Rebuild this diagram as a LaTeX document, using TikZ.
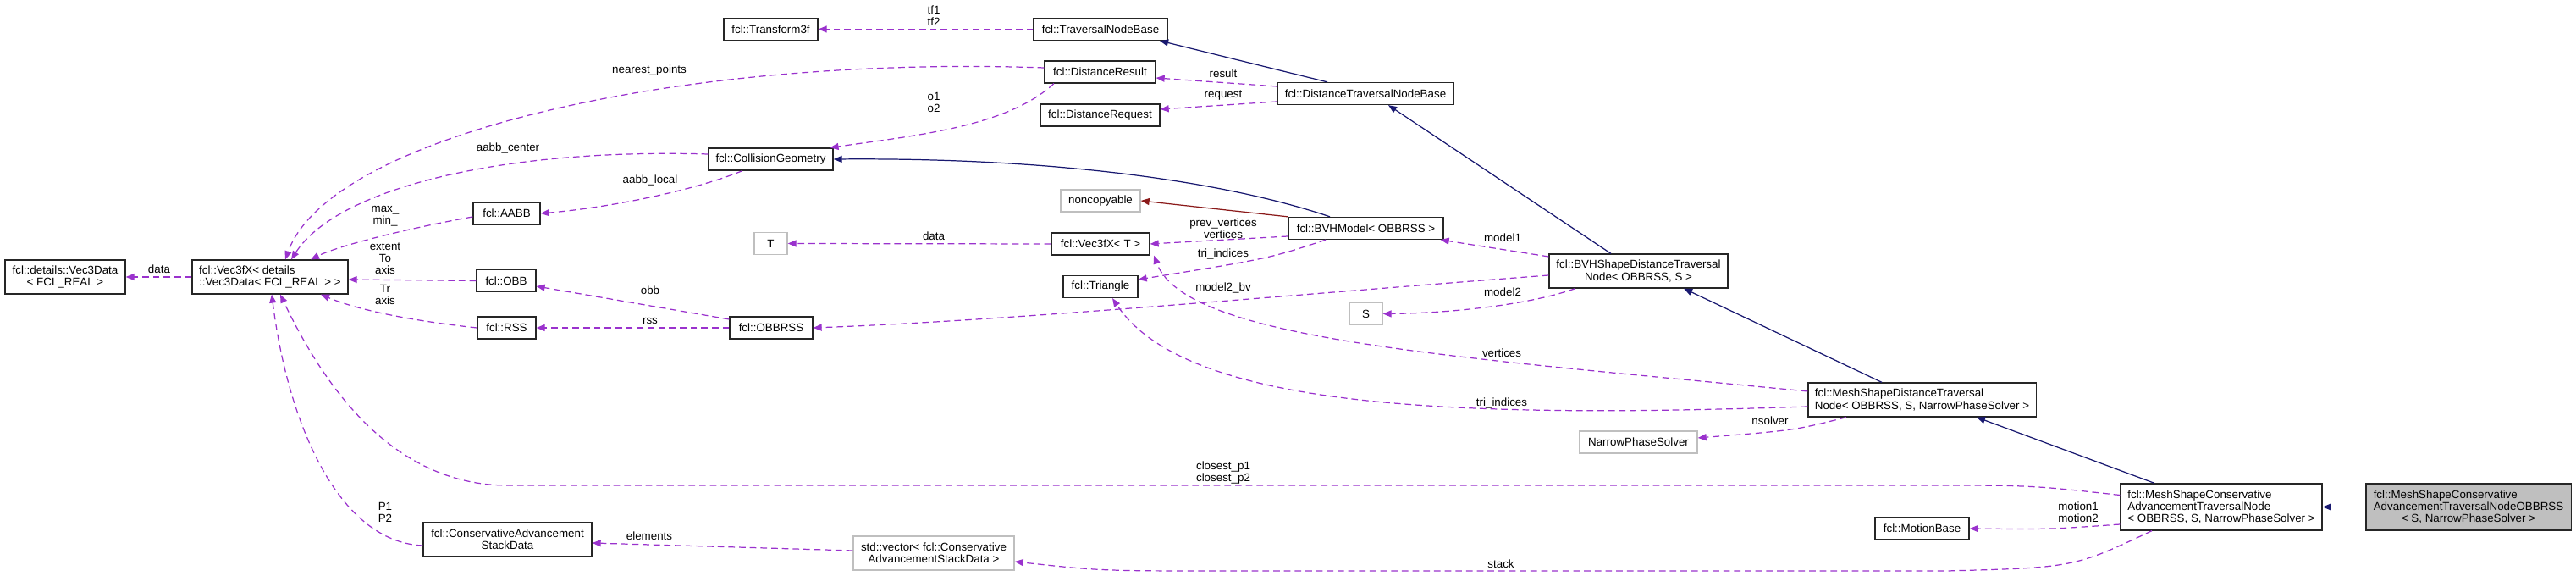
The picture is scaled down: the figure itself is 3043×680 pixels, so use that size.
\documentclass[tikz,border=0pt]{standalone}
\usepackage{fontspec}
\setmainfont{Liberation Sans}
\usetikzlibrary{arrows.meta}
\definecolor{grey75}{RGB}{191,191,191}
\definecolor{orchid}{RGB}{154,50,205}
\definecolor{navyline}{RGB}{25,25,112}
\definecolor{brick}{RGB}{139,26,26}
\newcommand{\dfont}{\fontsize{3.8}{4}\selectfont}

\begin{document}
\begin{tikzpicture}[x=0.01cm, y=-0.01cm,
      cls/.style={draw=black!85, fill=white, line width=.35pt, inner sep=0pt, minimum height=.26cm, font=\dfont},
      ext/.style={cls, draw=grey75},
      cur/.style={cls, fill=grey75},
      lbl/.style={font=\dfont, align=center, inner sep=0pt},
      use/.style={->, orchid, dash pattern=on 2.2pt off 1.4pt, line width=.35pt},
      inh/.style={->, navyline, line width=.35pt},
      priv/.style={->, brick, line width=.35pt},
      >={Triangle[length=1mm, width=.8mm]}
    ]
      \useasboundingbox (0,0) rectangle (3043,680);
      % classes
      \node[cls, align=center, minimum width=1.42cm, minimum height=.40cm] (vec3data) at (77,327) {fcl::details::Vec3Data\\< FCL\_REAL >};
      \node[cls, align=left, minimum width=1.84cm, minimum height=.40cm] (vec3fx) at (319,327) {fcl::Vec3fX< details\\::Vec3Data< FCL\_REAL > >};
      \node[cls, minimum width=.79cm] (aabb) at (598.5,252) {fcl::AABB};
      \node[cls, minimum width=.70cm] (obb) at (598,331.5) {fcl::OBB};
      \node[cls, minimum width=.69cm] (rss) at (598.5,387) {fcl::RSS};
      \node[cls, minimum width=.98cm] (obbrss) at (911,387) {fcl::OBBRSS};
      \node[cls, minimum width=1.47cm] (collgeom) at (910.5,188) {fcl::CollisionGeometry};
      \node[cls, minimum width=1.11cm] (transform) at (910.5,34.5) {fcl::Transform3f};
      \node[cls, minimum width=1.58cm] (travbase) at (1300,34.5) {fcl::TraversalNodeBase};
      \node[cls, minimum width=1.31cm] (distresult) at (1299.5,85) {fcl::DistanceResult};
      \node[cls, minimum width=1.41cm] (distrequest) at (1299.5,136) {fcl::DistanceRequest};
      \node[cls, minimum width=2.08cm] (disttravbase) at (1613,110.5) {fcl::DistanceTraversalNodeBase};
      \node[ext, minimum width=.94cm] (noncopy) at (1300,237) {noncopyable};
      \node[cls, minimum width=1.83cm] (bvhmodel) at (1613.5,269.5) {fcl::BVHModel< OBBRSS >};
      \node[ext, minimum width=.39cm] (tparam) at (910.5,287.5) {T};
      \node[cls, minimum width=1.16cm] (vec3fxt) at (1300,288) {fcl::Vec3fX< T >};
      \node[cls, minimum width=.88cm] (triangle) at (1300,338.5) {fcl::Triangle};
      \node[cls, align=center, minimum width=2.11cm, minimum height=.40cm] (bvhshape) at (1935.5,320) {fcl::BVHShapeDistanceTraversal\\Node< OBBRSS, S >};
      \node[ext, minimum width=.39cm] (sparam) at (1613.5,370.5) {S};
      \node[cls, align=left, minimum width=2.69cm, minimum height=.40cm] (meshdist) at (2270.5,472) {fcl::MeshShapeDistanceTraversal\\Node< OBBRSS, S, NarrowPhaseSolver >};
      \node[ext, minimum width=1.39cm] (narrow) at (1935.5,522) {NarrowPhaseSolver};
      \node[cls, align=left, minimum width=2.38cm, minimum height=.55cm] (conserv) at (2624,598.5) {fcl::MeshShapeConservative\\AdvancementTraversalNode\\< OBBRSS, S, NarrowPhaseSolver >};
      \node[cur, align=left, minimum width=2.42cm, minimum height=.55cm] (target) at (2916,598.5) {fcl::MeshShapeConservative\\AdvancementTraversalNodeOBBRSS\\\hspace*{\fill}< S, NarrowPhaseSolver >\hspace*{\fill}};
      \node[cls, minimum width=1.11cm] (motion) at (2270.5,624) {fcl::MotionBase};
      \node[cls, align=center, minimum width=1.99cm, minimum height=.40cm] (stackdata) at (599.5,637) {fcl::ConservativeAdvancement\\StackData};
      \node[ext, align=center, minimum width=1.90cm, minimum height=.40cm] (vecstack) at (1103,653) {std::vector< fcl::Conservative\\AdvancementStackData >};

      % member labels
      \node[lbl] (l-data1) at (188,318) {data};
      \node[lbl] (l-nearest) at (767,83) {nearest\_points};
      \node[lbl] (l-aabbc) at (600,175) {aabb\_center};
      \node[lbl] (l-aabbl) at (768,213) {aabb\_local};
      \node[lbl] (l-maxmin) at (455,255) {max\_\\min\_};
      \node[lbl] (l-extent) at (455,305) {extent\\To\\axis};
      \node[lbl] (l-tr) at (455,348) {Tr\\axis};
      \node[lbl] (l-obb) at (768,343) {obb};
      \node[lbl] (l-rss) at (768,379) {rss};
      \node[lbl] (l-tf) at (1103,19) {tf1\\tf2};
      \node[lbl] (l-result) at (1445,87) {result};
      \node[lbl] (l-request) at (1445,113) {request};
      \node[lbl] (l-o) at (1103,121) {o1\\o2};
      \node[lbl] (l-data2) at (1103,279) {data};
      \node[lbl] (l-verts1) at (1445,270) {prev\_vertices\\vertices};
      \node[lbl] (l-tri1) at (1445,300) {tri\_indices};
      \node[lbl] (l-model1) at (1775,281) {model1};
      \node[lbl] (l-model2bv) at (1445,340) {model2\_bv};
      \node[lbl] (l-model2) at (1775,345) {model2};
      \node[lbl] (l-verts2) at (1774,417) {vertices};
      \node[lbl] (l-tri2) at (1774,476) {tri\_indices};
      \node[lbl] (l-nsolver) at (2091,497) {nsolver};
      \node[lbl] (l-closest) at (1445,558) {closest\_p1\\closest\_p2};
      \node[lbl] (l-p) at (455,605) {P1\\P2};
      \node[lbl] (l-elements) at (767,633) {elements};
      \node[lbl] (l-stack) at (1773,666) {stack};
      \node[lbl] (l-motion) at (2455,605) {motion1\\motion2};

      % inheritance
      \draw[inh] ([xshift=-.45cm]disttravbase.north) -- ([xshift=.7cm]travbase.south);
      \draw[inh] ([xshift=-.425cm]bvhmodel.north) .. controls (1450,215) and (1250,186) .. (collgeom.east);
      \draw[priv] (bvhmodel.north west) -- (noncopy.east);
      \draw[inh] ([xshift=-.325cm]bvhshape.north) -- ([xshift=.27cm]disttravbase.south);
      \draw[inh] ([xshift=-.475cm]meshdist.north) -- ([xshift=.535cm]bvhshape.south);
      \draw[inh] ([xshift=-.79cm]conserv.north) -- ([xshift=.645cm]meshdist.south);
      \draw[inh] (target) -- (conserv);

      % members
      \draw[use] (vec3fx.west) -- (vec3data.east);
      \draw[use] ([yshift=.05cm]distresult.west) .. controls (800,65) and (390,160) .. ([xshift=.18cm]vec3fx.north);
      \draw[use] ([yshift=.06cm]collgeom.west) .. controls (600,175) and (400,220) .. ([xshift=.25cm]vec3fx.north);
      \draw[use] ([xshift=-.335cm]collgeom.south) .. controls (820,225) and (720,245) .. (aabb.east);
      \draw[use] ([yshift=-.04cm]aabb.west) .. controls (480,270) and (400,290) .. ([xshift=.48cm]vec3fx.north);
      \draw[use] (obb.west) -- ([yshift=-.03cm]vec3fx.east);
      \draw[use] (rss.west) .. controls (480,378) and (420,365) .. ([xshift=.6cm]vec3fx.south);
      \draw[use] ([yshift=.1cm]obbrss.west) -- ([yshift=-.065cm]obb.east);
      \draw[use] (obbrss.west) -- (rss.east);
      \draw[use] (travbase.west) -- (transform.east);
      \draw[use] ([yshift=.085cm]disttravbase.west) -- ([yshift=-.07cm]distresult.east);
      \draw[use] ([yshift=-.095cm]disttravbase.west) -- ([yshift=.07cm]distrequest.east);
      \draw[use] ([xshift=-.545cm]distresult.south) .. controls (1190,150) and (1080,160) .. ([xshift=.7cm]collgeom.north);
      \draw[use] (vec3fxt.west) -- (tparam.east);
      \draw[use] ([yshift=-.095cm]bvhmodel.west) -- (vec3fxt.east);
      \draw[use] ([xshift=-.475cm]bvhmodel.south) .. controls (1500,305) .. ([yshift=.085cm]triangle.east);
      \draw[use] ([yshift=.17cm]bvhshape.west) -- ([xshift=-.04cm]bvhmodel.south east);
      \draw[use] ([yshift=-.05cm]bvhshape.west) .. controls (1500,350) and (1200,378) .. (obbrss.east);
      \draw[use] ([xshift=-.745cm]bvhshape.south) .. controls (1800,362) and (1700,370) .. (sparam.east);
      \draw[use] ([yshift=.1cm]meshdist.west) .. controls (1700,420) and (1400,400) .. ([xshift=.63cm]vec3fxt.south);
      \draw[use] ([yshift=-.08cm]meshdist.west) .. controls (1700,495) and (1400,480) .. ([xshift=.14cm]triangle.south);
      \draw[use] ([xshift=-.895cm]meshdist.south) .. controls (2120,508) .. ([yshift=.05cm]narrow.east);
      \draw[use] ([yshift=.14cm]conserv.west) .. controls (2400,573) .. (2280,573) -- (600,573) .. controls (460,573) and (380,450) .. ([xshift=.12cm]vec3fx.south);
      \draw[use] ([yshift=-.07cm]stackdata.west) .. controls (400,640) and (340,500) .. ([xshift=.02cm]vec3fx.south);
      \draw[use] ([yshift=.03cm]vecstack.west) -- ([yshift=-.04cm]stackdata.east);
      \draw[use] ([xshift=-.82cm]conserv.south) .. controls (2450,670) .. (2300,674) -- (1450,674) .. controls (1300,674) .. ([yshift=-.1cm]vecstack.east);
      \draw[use] ([yshift=-.205cm]conserv.west) .. controls (2420,625) .. (motion.east);
    \end{tikzpicture}
\end{document}
